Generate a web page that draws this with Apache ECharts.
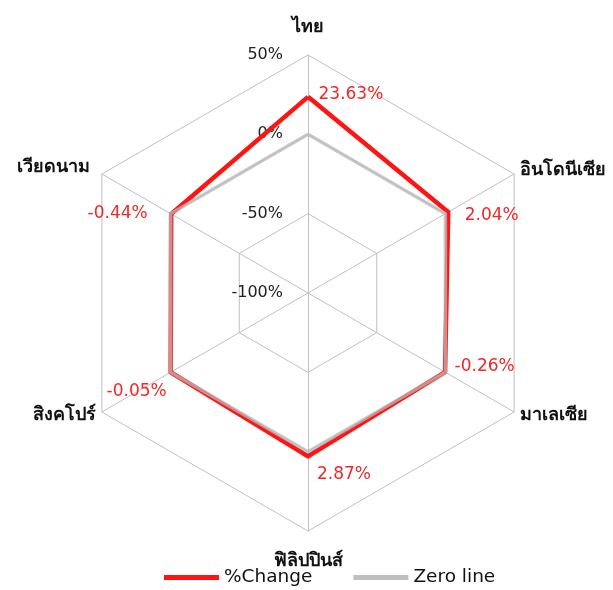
<!DOCTYPE html>
<html>
<head>
<meta charset="utf-8">
<script src="https://cdn.jsdelivr.net/npm/echarts@6/dist/echarts.min.js"></script>
<style>
  html, body { margin: 0; padding: 0; background: #fff; }
  #chart { width: 613px; height: 590px; }
</style>
</head>
<body>
<div id="chart"></div>
<script>
// --- Data (indicator order runs counter-clockwise from the top) ---
const countries = ['ไทย', 'เวียดนาม', 'สิงคโปร์', 'ฟิลิปปินส์', 'มาเลเซีย', 'อินโดนีเซีย'];
const pctChange = [23.63, -0.44, -0.05, 2.87, -0.26, 2.04];
const zeroLine = [0, 0, 0, 0, 0, 0];
const axisMin = -100;
const axisMax = 50;

// label placement per country index
const labelGroups = [
    { dims: [0], position: 'right', offset: [5, -2] },
    { dims: [5], position: 'right', offset: [11, 4] },
    { dims: [4], position: 'right', offset: [4, -6] },
    { dims: [3], position: 'bottom', offset: [36, 4] },
    { dims: [1], position: 'left', offset: [-18, 0] },
    { dims: [2], position: 'bottom', offset: [-34, 5] }
];

const FONT = '"DejaVu Sans", "Noto Sans", sans-serif';
const chart = echarts.init(document.getElementById('chart'), null, { renderer: 'canvas' });

const fmtPct = v => v.toFixed(2) + '%';

const labelItems = labelGroups.map(g => ({
    value: pctChange,
    label: {
        show: true,
        position: g.position,
        offset: g.offset,
        formatter: p => g.dims.includes(p.dimensionIndex) ? fmtPct(p.value) : ''
    }
}));

const nameStyle = { color: '#111', fontSize: 18, fontWeight: 'bold', fontFamily: FONT };

chart.setOption({
    animation: false,
    legend: {
        bottom: -2,
        left: 159,
        icon: 'rect',
        itemWidth: 55,
        itemHeight: 5,
        itemGap: 41,
        data: ['%Change', 'Zero line'],
        textStyle: { fontSize: 18.5, color: '#111', fontFamily: FONT }
    },
    radar: {
        center: [308, 293],
        radius: 238,
        startAngle: 90,
        splitNumber: 3,
        shape: 'polygon',
        indicator: countries.map((name, i) => ({
            name: name,
            min: axisMin,
            max: axisMax,
            axisLabel: { show: i === 0 }
        })),
        axisName: Object.assign({
            formatter: (name) => {
                if (name === countries[0]) return '{up|' + name + '}';
                if (name === countries[3]) return '{down|' + name + '}';
                if (name === countries[1]) return '{ul|' + name + '}';
                return name;
            },
            rich: {
                up: Object.assign({ padding: [0, 0, 12, 0] }, nameStyle),
                down: Object.assign({ padding: [14, 0, 0, 0] }, nameStyle),
                ul: Object.assign({ padding: [0, 6, 6, 0] }, nameStyle)
            }
        }, nameStyle),
        axisNameGap: 7,
        axisLine: { lineStyle: { color: '#c0c0c0', width: 1 } },
        splitLine: { lineStyle: { color: '#c0c0c0', width: 1 } },
        splitArea: { show: false },
        axisTick: { show: false },
        axisLabel: {
            show: false,
            formatter: '{value}%',
            color: '#222',
            fontSize: 16,
            fontFamily: FONT,
            margin: 25
        }
    },
    series: [
        {
            name: '%Change',
            type: 'radar',
            symbol: 'none',
            lineStyle: { color: '#ff1414', width: 4.5 },
            itemStyle: { color: '#ff1414' },
            data: [{ value: pctChange, name: '%Change' }],
            z: 2
        },
        {
            name: 'Zero line',
            type: 'radar',
            symbol: 'none',
            lineStyle: { color: '#b8b8b8', width: 3.5, opacity: 0.75 },
            itemStyle: { color: '#bfbfbf' },
            data: [{ value: zeroLine, name: 'Zero line' }],
            z: 3
        },
        {
            name: 'labels',
            type: 'radar',
            symbol: 'circle',
            symbolSize: 1,
            lineStyle: { opacity: 0 },
            itemStyle: { color: 'rgba(0,0,0,0)' },
            label: {
                color: '#f02828',
                fontSize: 17,
                fontFamily: FONT
            },
            data: labelItems,
            z: 4
        }
    ]
});
</script>
</body>
</html>
